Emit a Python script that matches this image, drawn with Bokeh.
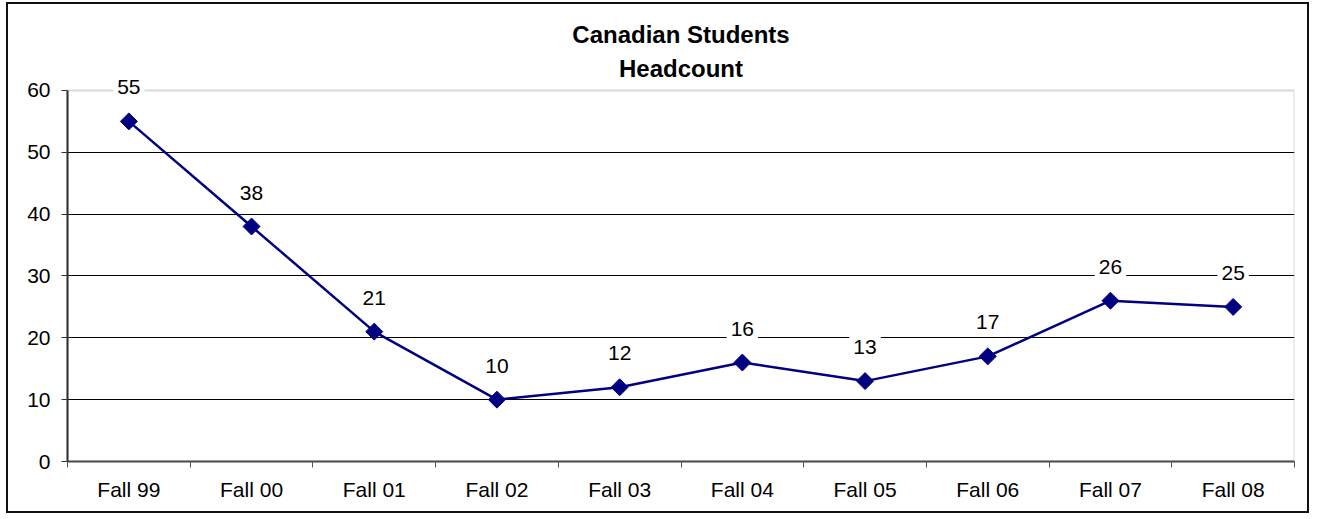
from bokeh.plotting import figure
from bokeh.models import FixedTicker, Label, Range1d, BoxAnnotation
from bokeh.embed import file_html
from bokeh.resources import INLINE
import math

categories = ["Fall 99", "Fall 00", "Fall 01", "Fall 02", "Fall 03",
              "Fall 04", "Fall 05", "Fall 06", "Fall 07", "Fall 08"]
headcount = [55, 38, 21, 10, 12, 16, 13, 17, 26, 25]
y_ticks = [0, 10, 20, 30, 40, 50, 60]
title_lines = ["Canadian Students", "Headcount"]

FONT = "Liberation Sans"
NAVY = "#000080"

Y_MAX = 60
# frame extends above the plot area so labels/title are not clipped
Y_TOP = 73.9

p = figure(width=1303, height=511, output_backend="svg", toolbar_location=None,
           x_range=Range1d(0, len(categories)), y_range=Range1d(0, Y_TOP),
           min_border_left=59, min_border_right=17, min_border_top=0, min_border_bottom=54)
p.styles = {"margin": "2px 0 0 6px", "border": "2px solid #111111"}

p.background_fill_color = "white"
p.border_fill_color = "white"
p.outline_line_color = None

# plot area border
p.add_layout(BoxAnnotation(left=0, right=len(categories), bottom=0, top=Y_MAX,
                           fill_alpha=0, line_color="#808080", line_width=2))

xs = [i + 0.5 for i in range(len(categories))]

# x axis: labels at centres, ticks between categories
p.xaxis.ticker = FixedTicker(ticks=xs, minor_ticks=list(range(len(categories) + 1)))
p.xaxis.major_label_overrides = {x: c for x, c in zip(xs, categories)}
p.xaxis.major_tick_out = 0
p.xaxis.major_tick_in = 0
p.xaxis.minor_tick_out = 6
p.xaxis.minor_tick_in = 0
p.xaxis.minor_tick_line_color = "#555555"
p.xaxis.minor_tick_line_width = 1
p.xaxis.axis_line_color = "#444444"
p.xaxis.axis_line_width = 2
p.xaxis.major_label_standoff = 10
p.xaxis.major_label_text_font = FONT
p.xaxis.major_label_text_font_size = "21px"
p.xaxis.major_label_text_color = "black"

p.yaxis.ticker = FixedTicker(ticks=y_ticks)
p.yaxis.bounds = (0, Y_MAX)
p.yaxis.minor_tick_line_color = None
p.yaxis.major_tick_out = 6
p.yaxis.major_tick_in = 0
p.yaxis.major_tick_line_color = "#333333"
p.yaxis.axis_line_color = "#222222"
p.yaxis.axis_line_width = 2
p.yaxis.major_label_standoff = 11
p.yaxis.major_label_text_font = FONT
p.yaxis.major_label_text_font_size = "21px"
p.yaxis.major_label_text_color = "black"

p.xgrid.grid_line_color = None
p.ygrid.ticker = FixedTicker(ticks=y_ticks[1:-1])
p.ygrid.grid_line_color = "black"
p.ygrid.grid_line_width = 1

p.line(xs, headcount, line_color=NAVY, line_width=2.5)
p.scatter(xs, headcount, marker="square", angle=math.pi / 4, size=12,
          fill_color=NAVY, line_color=NAVY)

for x, v in zip(xs, headcount):
    p.add_layout(Label(x=x, y=v, text=str(v), y_offset=34, text_align="center",
                       text_baseline="middle", text_font=FONT, text_font_size="21px",
                       text_color="black", background_fill_color="white",
                       padding=4))

for text, off in zip(title_lines, [56, 22]):
    p.add_layout(Label(x=len(categories) / 2, y=Y_MAX, y_offset=off, text=text,
                       text_align="center", text_baseline="middle", text_font=FONT,
                       text_font_size="24px", text_font_style="bold", text_color="black"))

open("out.html", "w").write(file_html(p, INLINE))
